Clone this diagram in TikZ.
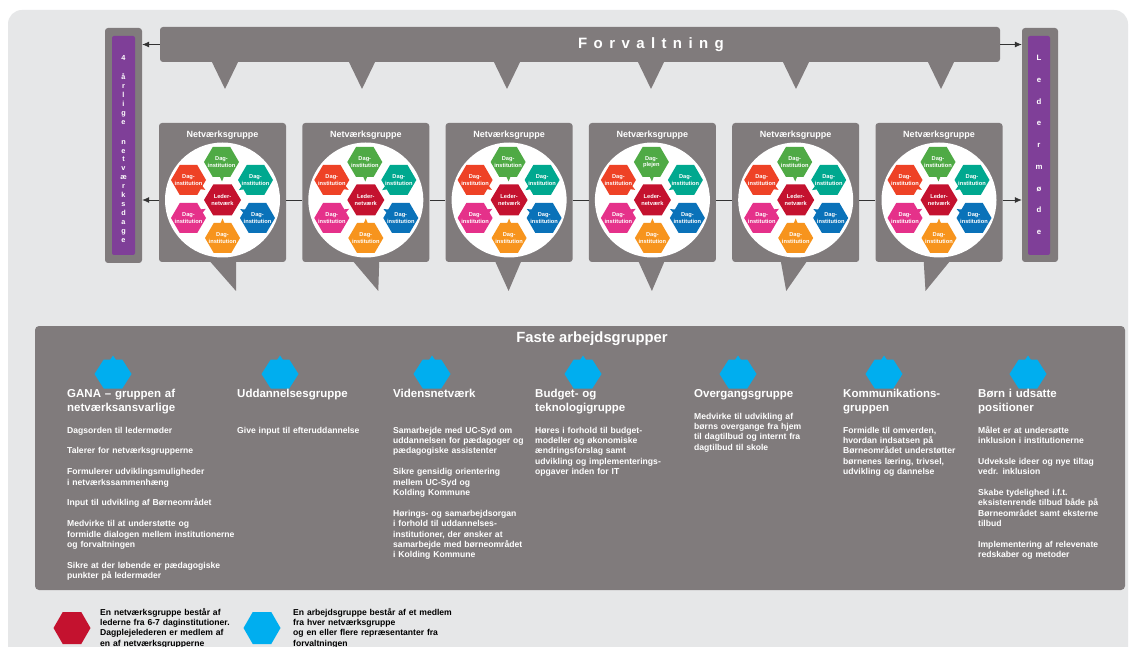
\documentclass[tikz,border=0pt]{standalone}
\usepackage{fontspec}
\setmainfont{Liberation Sans}
\usetikzlibrary{arrows.meta,calc}
\definecolor{bgg}{HTML}{E6E7E8}
\definecolor{boxg}{HTML}{807B7C}
\definecolor{purp}{HTML}{7F3F98}
\definecolor{hgreen}{HTML}{4FAA45}
\definecolor{hteal}{HTML}{00A88F}
\definecolor{hblue}{HTML}{0A72B9}
\definecolor{horange}{HTML}{F7941D}
\definecolor{hpink}{HTML}{E5318A}
\definecolor{hred}{HTML}{EE4226}
\definecolor{hcrim}{HTML}{C4122F}
\definecolor{hcyan}{HTML}{00AEEF}
\definecolor{conn}{HTML}{333333}
% #1 colour, #2 centre (named coordinate), #3 half width, #4 half height
\newcommand{\myhex}[4]{\fill[#1, shift={(#2)}] (-#3,0) -- (-#3/2,-#4) -- (#3/2,-#4) -- (#3,0) -- (#3/2,#4) -- (-#3/2,#4) -- cycle;}
\newcommand{\parbrk}{\\[10.4pt]}
\newcommand{\lsp}{\hspace{6.4pt}}
\tikzset{
  gframe/.style={fill=boxg, rounded corners=3pt, draw=none, inner sep=0},
  pbar/.style={fill=purp, rounded corners=2pt, inner sep=0},
  ptxt/.style={text=white, align=center, inner sep=0, font=\fontsize{7.3}{8.9}\selectfont\bfseries},
  gtitle/.style={text=white, inner sep=0, font=\fontsize{9}{10}\selectfont\bfseries},
  circ/.style={circle, fill=white, minimum size=115pt, inner sep=0},
  hext/.style={text=white, align=center, inner sep=0, font=\fontsize{5.7}{6.3}\selectfont\bfseries},
  colhead/.style={anchor=base west, inner sep=0, text width=170pt, align=left, text=white, font=\fontsize{11.5}{14}\selectfont\bfseries},
  colbody/.style={anchor=base west, inner sep=0, text width=200pt, align=left, text=white, font=\fontsize{8.6}{10.4}\selectfont\bfseries},
  legtxt/.style={anchor=base west, inner sep=0, text width=200pt, align=left, text=black, font=\fontsize{8.6}{10.4}\selectfont\bfseries},
  arr/.style={draw=conn, line width=0.8pt, -{Latex[length=7pt,width=6pt]}},
  link/.style={draw=conn, line width=0.8pt},
}
\begin{document}
\begin{tikzpicture}[x=1pt,y=-1pt]
\useasboundingbox (0,0) rectangle (1133,647);
\clip (0,0) rectangle (1133,647);
\fill[white] (0,0) rectangle (1133,647);
\fill[bgg, rounded corners=14pt] (8,10) rectangle (1128,720);

% side bars
\node[gframe, minimum width=37pt, minimum height=235pt] (lframe) at (123.5,145.5) {};
\node[pbar, minimum width=23pt, minimum height=219pt] (lpurp) at (123.5,145.5) {};
\node[ptxt] (ltxt) at (123.5,149) {4\\[10pt]å\\r\\l\\i\\g\\e\\[11pt]n\\e\\t\\v\\æ\\r\\k\\s\\d\\a\\g\\e};
\node[gframe, minimum width=36pt, minimum height=234pt] (rframe) at (1040,145) {};
\node[pbar, minimum width=22pt, minimum height=219pt] (rpurp) at (1039,145.5) {};
\node[ptxt, font=\fontsize{7.8}{21.7}\selectfont\bfseries] (rtxt) at (1039,145) {L\\e\\d\\e\\r\\m\\ø\\d\\e};

% Forvaltning bar
\foreach \x in {225,362,507,651,796,941}{
  \fill[boxg] (\x-15,58) -- (\x+15,58) -- (\x,89) -- cycle;
}
\node[gframe, minimum width=840pt, minimum height=35pt] (fbar) at (580,44.5) {};
\node[text=white, inner sep=0, font=\fontsize{15}{16}\selectfont\bfseries] (ftxt) at (651,44.5)
  {F\lsp o\lsp r\lsp v\lsp a\lsp l\lsp t\lsp n\lsp i\lsp n\lsp g};
\draw[arr] (fbar.west) -- (lframe.east |- fbar.west);
\draw[arr] (fbar.east) -- (rframe.west |- fbar.east);

% network groups
\foreach \i/\tip in {0/77,1/76,2/63,3/63,4/54,5/50}{
  \pgfmathsetmacro\L{159+143.3*\i}
  \pgfmathsetmacro\cx{\L+63.5}
  \fill[boxg] (\L+48,258) -- (\L+77,258) -- (\L+\tip,291) -- cycle;
  \node[gframe, minimum width=127pt, minimum height=139pt] (g\i) at (\cx,192.5) {};
  \node[gtitle] (t\i) at (\cx,135) {Netværksgruppe};
  \node[circ] (c\i) at (\cx,200) {};
  \foreach \n/\dx/\dy/\col [count=\k] in {A/-1/-38/hgreen, B/33/-20/hteal, C/35/18/hblue, D/0/38/horange, E/-34/18/hpink, F/-34/-20/hred}{
    \coordinate (h\n\i) at (\cx+\dx,200+\dy);
    \fill[\col] ($(h\n\i)!19.5pt!(c\i)$) -- ($(h\n\i)!12pt!16:(c\i)$) -- ($(h\n\i)!12pt!-16:(c\i)$) -- cycle;
    \myhex{\col}{h\n\i}{17.5}{15}
    \ifnum\i=3 \ifnum\k=1
      \node[hext] (n\n\i) at (h\n\i) {Dag-\\plejen};
    \else
      \node[hext] (n\n\i) at (h\n\i) {Dag-\\institution};
    \fi\else
      \node[hext] (n\n\i) at (h\n\i) {Dag-\\institution};
    \fi
  }
  \coordinate (hM\i) at (\cx,200);
  \myhex{hcrim}{hM\i}{18.5}{15.5}
  \node[hext] (nM\i) at (hM\i) {Leder-\\netværk};
}
\draw[arr] (g0.west |- c0) -- (lframe.east |- c0);
\foreach \i [evaluate=\i as \j using int(\i+1)] in {0,...,4}{
  \draw[link] (g\i.east |- c\i) -- (g\j.west |- c\j);
}
\draw[arr] (g5.east |- c5) -- (rframe.west |- c5);

% Faste arbejdsgrupper
\node[gframe, rounded corners=4pt, minimum width=1090pt, minimum height=264pt] (fbox) at (580,458) {};
\node[text=white, inner sep=0, font=\fontsize{14.8}{16}\selectfont\bfseries] (ftitle) at (592,339) {Faste arbejdsgrupper};
\foreach \x [count=\k] in {113,280,432,583,738,884,1028}{
  \coordinate (b\k) at (\x,374);
  \fill[hcyan] (\x-3,360) -- (\x,355.5) -- (\x+3,360) -- cycle;
  \myhex{hcyan}{b\k}{18.5}{14.5}
}
\node[colhead] (h1) at (67,397) {GANA -- gruppen af\\netværksansvarlige};
\node[colbody] (d1) at (67,433) {Dagsorden til ledermøder\parbrk Talerer for netværksgrupperne\parbrk Formulerer udviklingsmuligheder\\i netværkssammenhæng\parbrk Input til udvikling af Børneområdet\parbrk Medvirke til at understøtte og\\formidle dialogen mellem institutionerne\\og forvaltningen\parbrk Sikre at der løbende er pædagogiske\\punkter på ledermøder};
\node[colhead] (h2) at (237,397) {Uddannelsesgruppe};
\node[colbody] (d2) at (237,433) {Give input til efteruddannelse};
\node[colhead] (h3) at (393,397) {Vidensnetværk};
\node[colbody] (d3) at (393,433) {Samarbejde med UC-Syd om\\uddannelsen for pædagoger og\\pædagogiske assistenter\parbrk Sikre gensidig orientering\\mellem UC-Syd og\\Kolding Kommune\parbrk Hørings- og samarbejdsorgan\\i forhold til uddannelses-\\institutioner, der ønsker at\\samarbejde med børneområdet\\i Kolding Kommune};
\node[colhead] (h4) at (535,397) {Budget- og\\teknologigruppe};
\node[colbody] (d4) at (535,433) {Høres i forhold til budget-\\modeller og økonomiske\\ændringsforslag samt\\udvikling og implementerings-\\opgaver inden for IT};
\node[colhead] (h5) at (694,397) {Overgangsgruppe};
\node[colbody] (d5) at (694,419) {Medvirke til udvikling af\\børns overgange fra hjem\\til dagtilbud og internt fra\\dagtilbud til skole};
\node[colhead] (h6) at (843,397) {Kommunikations-\\gruppen};
\node[colbody] (d6) at (843,433) {Formidle til omverden,\\hvordan indsatsen på\\Børneområdet understøtter\\børnenes læring, trivsel,\\udvikling og dannelse};
\node[colhead] (h7) at (978,397) {Børn i udsatte\\positioner};
\node[colbody] (d7) at (978,433) {Målet er at undersøtte\\inklusion i institutionerne\parbrk Udveksle ideer og nye tiltag\\vedr. inklusion\parbrk Skabe tydelighed i.f.t.\\eksistenrende tilbud både på\\Børneområdet samt eksterne\\tilbud\parbrk Implementering af relevenate\\redskaber og metoder};

% legend
\coordinate (lr) at (72,628);
\myhex{hcrim}{lr}{18.5}{16}
\node[legtxt] (lt1) at (100,615) {En netværksgruppe består af\\lederne fra 6-7 daginstitutioner.\\Dagplejelederen er medlem af\\en af netværksgrupperne};
\coordinate (lb) at (262,628);
\myhex{hcyan}{lb}{18.5}{16}
\node[legtxt] (lt2) at (293,615) {En arbejdsgruppe består af et medlem\\fra hver netværksgruppe\\og en eller flere repræsentanter fra\\forvaltningen};
\end{tikzpicture}
\end{document}
